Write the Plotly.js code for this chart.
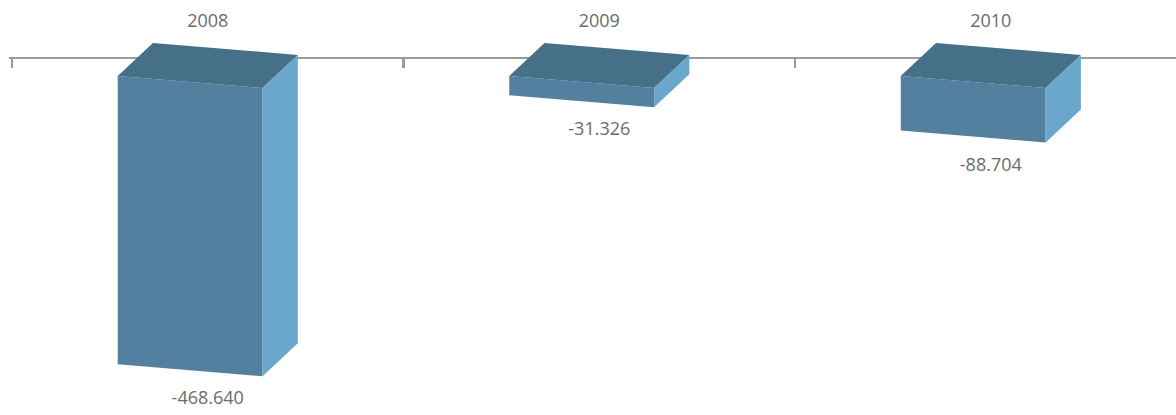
<!DOCTYPE html>
<html>
<head>
<meta charset="utf-8">
<script src="https://cdn.plot.ly/plotly-3.0.1.min.js"></script>
<style>
  html, body { margin: 0; padding: 0; background: #ffffff; }
  #chart { width: 1176px; height: 415px; }
</style>
</head>
<body>
<div id="chart"></div>
<script>
// ---- data ----
const categories = ['2008', '2009', '2010'];
const values = [-468.640, -31.326, -88.704];
const valueLabels = ['-468.640', '-31.326', '-88.704'];

// ---- 3D box styling (in axis units) ----
const FRONT_LEFT = -0.23;   // front face left edge relative to category centre
const FRONT_RIGHT = 0.14;   // front face right edge relative to category centre
const DEPTH_X = 0.09;       // depth offset along x
const DEPTH_Y = 53.7;       // depth offset along y
const SKEW_Y = 19.5;        // front/back edge drop from left to right
const LABEL_GAP = 58;       // distance of value label below bar end

const COLOR_FRONT = '#52809e';
const COLOR_TOP = '#466f88';
const COLOR_SIDE = '#6aa7cb';

const traces = [];
function poly(xs, ys, color) {
  traces.push({
    type: 'scatter', mode: 'lines', xaxis: 'x', yaxis: 'y',
    x: xs.concat([xs[0]]), y: ys.concat([ys[0]]),
    fill: 'toself', fillcolor: color,
    line: { width: 0, color: color },
    hoverinfo: 'skip', showlegend: false
  });
}

values.forEach((v, i) => {
  const xL = i + FRONT_LEFT, xR = i + FRONT_RIGHT;
  // front face
  poly([xL, xR, xR, xL], [0, -SKEW_Y, v - SKEW_Y, v], COLOR_FRONT);
  // top face
  poly([xL, xR, xR + DEPTH_X, xL + DEPTH_X], [0, -SKEW_Y, -SKEW_Y + DEPTH_Y, DEPTH_Y], COLOR_TOP);
  // right side face
  poly([xR, xR + DEPTH_X, xR + DEPTH_X, xR], [-SKEW_Y, -SKEW_Y + DEPTH_Y, v - SKEW_Y + DEPTH_Y, v - SKEW_Y], COLOR_SIDE);
});

// value labels on the category axis
traces.push({
  type: 'scatter', mode: 'text', xaxis: 'x2', yaxis: 'y',
  x: categories,
  y: values.map(v => v - LABEL_GAP),
  text: valueLabels,
  textposition: 'middle center',
  textfont: { family: 'Open Sans, sans-serif', size: 18, color: '#6b6b6b' },
  cliponaxis: false,
  hoverinfo: 'skip', showlegend: false
});

const W = 1176, H = 415;
const UNIT_PX = 391.5;
const EDGE_PX = 3;
const xRange = [-0.5 - EDGE_PX / UNIT_PX, 2.473];
const boundaries = categories.map((c, i) => i - 0.5).concat([categories.length - 0.5]);
const axisPos = 1 - 58 / H;

const layout = {
  width: W, height: H,
  margin: { l: 12 - EDGE_PX, r: 0, t: 0, b: 0, pad: 0 },
  paper_bgcolor: '#ffffff', plot_bgcolor: '#ffffff',
  showlegend: false,
  hovermode: false,
  xaxis: {
    type: 'linear', range: xRange,
    side: 'top', anchor: 'free', position: axisPos,
    showline: true, linecolor: '#9a9a9a', linewidth: 2,
    tickmode: 'array', tickvals: boundaries, showticklabels: false,
    ticks: 'inside', ticklen: 9, tickwidth: 2.5, tickcolor: '#9a9a9a',
    showgrid: false, zeroline: false,
    layer: 'below traces',
    fixedrange: true, automargin: false
  },
  xaxis2: {
    type: 'category', overlaying: 'x',
    categoryorder: 'array', categoryarray: categories,
    range: xRange,
    side: 'top', anchor: 'free', position: axisPos,
    showline: false, ticks: '', showgrid: false, zeroline: false,
    tickfont: { family: 'Open Sans, sans-serif', size: 18, color: '#6b6b6b' },
    ticklabelstandoff: 27,
    fixedrange: true, automargin: false
  },
  yaxis: {
    range: [-551.2, 123.6], visible: false, showgrid: false, zeroline: false,
    fixedrange: true, automargin: false
  },
  font: { family: 'Open Sans, sans-serif' }
};

Plotly.newPlot('chart', traces, layout, { displayModeBar: false, staticPlot: true });
</script>
</body>
</html>
